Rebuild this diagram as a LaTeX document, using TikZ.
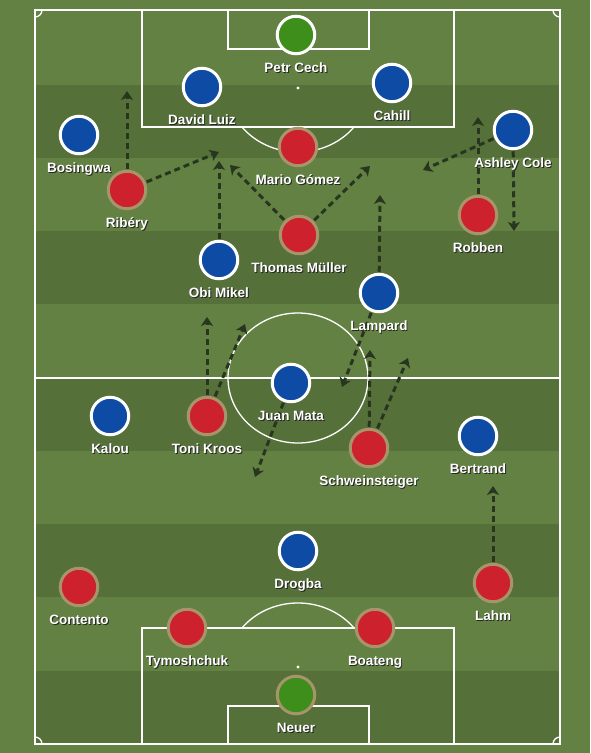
\documentclass[tikz,border=0pt]{standalone}
\usepackage{fontspec}
\setmainfont{Liberation Sans}
\usetikzlibrary{positioning,arrows.meta}

\definecolor{pitchLight}{RGB}{99,129,66}
\definecolor{pitchDark}{RGB}{86,112,58}
\definecolor{chelseaBlue}{RGB}{14,75,165}
\definecolor{bayernRed}{RGB}{205,33,45}
\definecolor{bayernRim}{RGB}{168,148,106}
\definecolor{keeperGreen}{RGB}{62,142,28}
\definecolor{runColor}{RGB}{40,54,32}

\pgfdeclarelayer{pitch}
\pgfdeclarelayer{runs}
\pgfsetlayers{pitch,runs,main}

\newcommand\shadowtext[1]{\makebox[0pt][l]{\kern0.9pt\raisebox{-0.9pt}{\color{black!85}#1}}{\color{white}#1}}

\tikzstyle{PitchLine} = [draw=white, line width=1.3pt]
\tikzstyle{Chelsea} = [circle, fill=chelseaBlue, draw=white, line width=3pt, minimum size=37.5pt, inner sep=0pt]
\tikzstyle{ChelseaKeeper} = [Chelsea, fill=keeperGreen]
\tikzstyle{Bayern} = [circle, fill=bayernRed, draw=bayernRim, line width=3pt, minimum size=37.5pt, inner sep=0pt]
\tikzstyle{BayernKeeper} = [Bayern, fill=keeperGreen]
\tikzstyle{PlayerName} = [inner sep=0pt, text height=10pt, text depth=3pt, font=\bfseries\fontsize{13.5}{15}\selectfont]
\tikzstyle{Run} = [line width=3pt, color=runColor, dash pattern=on 6pt off 4pt, -{Stealth[length=9pt,width=12pt,inset=2.5pt]}, shorten <=1pt]

\begin{document}
\begin{tikzpicture}[x=1pt,y=-1pt]
\useasboundingbox (0,0) rectangle (590,753);

\begin{pgfonlayer}{pitch}
% grass
\fill[pitchLight] (0,0) rectangle (590,753);
\fill[pitchDark] (35,85) rectangle (560,158);
\fill[pitchDark] (35,231) rectangle (560,304);
\fill[pitchDark] (35,378) rectangle (560,451);
\fill[pitchDark] (35,524) rectangle (560,597);
\fill[pitchDark] (35,671) rectangle (560,744);

% markings
\draw[PitchLine] (35,10) rectangle (560,744);
\draw[PitchLine] (35,378) -- (560,378);
\draw[PitchLine] (298,378) ellipse [x radius=70, y radius=65];
\draw[PitchLine] (142,10) rectangle (454,127);
\draw[PitchLine] (228,10) rectangle (369,49);
\draw[PitchLine] (142,628) rectangle (454,744);
\draw[PitchLine] (228,706) rectangle (369,744);
\fill[white] (298,88) circle[radius=1.6pt];
\fill[white] (298,667) circle[radius=1.6pt];
\begin{scope}
\clip (35,127) rectangle (560,378);
\draw[PitchLine] (298,88) ellipse [x radius=70.6, y radius=64];
\end{scope}
\begin{scope}
\clip (35,378) rectangle (560,628);
\draw[PitchLine] (298,667) ellipse [x radius=70.6, y radius=64];
\end{scope}
\begin{scope}
\clip (35,10) rectangle (560,744);
\draw[PitchLine] (35,10) circle[radius=7pt];
\draw[PitchLine] (560,10) circle[radius=7pt];
\draw[PitchLine] (35,744) circle[radius=7pt];
\draw[PitchLine] (560,744) circle[radius=7pt];
\end{scope}
\end{pgfonlayer}

% chelsea
\node[ChelseaKeeper] (cech) at (296,35) {};
\node[Chelsea] (luiz) at (202,87) {};
\node[Chelsea] (cahill) at (392,83) {};
\node[Chelsea] (bosingwa) at (79,135) {};
\node[Chelsea] (cole) at (513,130) {};
\node[Chelsea] (mikel) at (219,260) {};
\node[Chelsea] (lampard) at (379,293) {};
\node[Chelsea] (mata) at (291,383) {};
\node[Chelsea] (kalou) at (110,416) {};
\node[Chelsea] (bertrand) at (478,436) {};
\node[Chelsea] (drogba) at (298,551) {};

% bayern
\node[Bayern] (gomez) at (298,147) {};
\node[Bayern] (ribery) at (127,190) {};
\node[Bayern] (robben) at (478,215) {};
\node[Bayern] (mueller) at (299,235) {};
\node[Bayern] (kroos) at (207,416) {};
\node[Bayern] (schweini) at (369,448) {};
\node[Bayern] (contento) at (79,587) {};
\node[Bayern] (lahm) at (493,583) {};
\node[Bayern] (tymo) at (187,628) {};
\node[Bayern] (boateng) at (375,628) {};
\node[BayernKeeper] (neuer) at (296,695) {};

% names
\node[PlayerName, below=7pt of cech] (cechName) {\shadowtext{Petr Cech}};
\node[PlayerName, below=7pt of luiz] (luizName) {\shadowtext{David Luiz}};
\node[PlayerName, below=7pt of cahill] (cahillName) {\shadowtext{Cahill}};
\node[PlayerName, below=7pt of bosingwa] (bosingwaName) {\shadowtext{Bosingwa}};
\node[PlayerName, below=7pt of cole] (coleName) {\shadowtext{Ashley Cole}};
\node[PlayerName, below=7pt of mikel] (mikelName) {\shadowtext{Obi Mikel}};
\node[PlayerName, below=7pt of lampard] (lampardName) {\shadowtext{Lampard}};
\node[PlayerName, below=7pt of mata] (mataName) {\shadowtext{Juan Mata}};
\node[PlayerName, below=7pt of kalou] (kalouName) {\shadowtext{Kalou}};
\node[PlayerName, below=7pt of bertrand] (bertrandName) {\shadowtext{Bertrand}};
\node[PlayerName, below=7pt of drogba] (drogbaName) {\shadowtext{Drogba}};
\node[PlayerName, below=7pt of gomez] (gomezName) {\shadowtext{Mario Gómez}};
\node[PlayerName, below=7pt of ribery] (riberyName) {\shadowtext{Ribéry}};
\node[PlayerName, below=7pt of robben] (robbenName) {\shadowtext{Robben}};
\node[PlayerName, below=7pt of mueller] (muellerName) {\shadowtext{Thomas Müller}};
\node[PlayerName, below=7pt of kroos] (kroosName) {\shadowtext{Toni Kroos}};
\node[PlayerName, below=7pt of schweini] (schweiniName) {\shadowtext{Schweinsteiger}};
\node[PlayerName, below=7pt of contento] (contentoName) {\shadowtext{Contento}};
\node[PlayerName, below=7pt of lahm] (lahmName) {\shadowtext{Lahm}};
\node[PlayerName, below=7pt of tymo] (tymoName) {\shadowtext{Tymoshchuk}};
\node[PlayerName, below=7pt of boateng] (boatengName) {\shadowtext{Boateng}};
\node[PlayerName, below=7pt of neuer] (neuerName) {\shadowtext{Neuer}};

% runs, under the players and names
\coordinate (riberyUp) at (127,91);
\coordinate (riberyIn) at (219,152);
\coordinate (mikelUp) at (219,161);
\coordinate (muellerLeft) at (230,165);
\coordinate (muellerRight) at (370,166);
\coordinate (lampardUp) at (380,195);
\coordinate (lampardBack) at (342,387);
\coordinate (robbenUp) at (478,117);
\coordinate (coleDown) at (514,231);
\coordinate (coleIn) at (423,170);
\coordinate (kroosUp) at (207,317);
\coordinate (kroosRight) at (245,324);
\coordinate (mataBack) at (255,477);
\coordinate (schweiniUp) at (370,350);
\coordinate (schweiniRight) at (408,358);
\coordinate (lahmUp) at (493,486);

\begin{pgfonlayer}{runs}
\draw[Run] (ribery) -- (riberyUp);
\draw[Run] (ribery) -- (riberyIn);
\draw[Run] (mikel) -- (mikelUp);
\draw[Run] (mueller) -- (muellerLeft);
\draw[Run] (mueller) -- (muellerRight);
\draw[Run] (lampard) -- (lampardUp);
\draw[Run] (lampard) -- (lampardBack);
\draw[Run] (robben) -- (robbenUp);
\draw[Run] (cole) -- (coleDown);
\draw[Run] (cole) -- (coleIn);
\draw[Run] (kroos) -- (kroosUp);
\draw[Run] (kroos) -- (kroosRight);
\draw[Run] (mata) -- (mataBack);
\draw[Run] (schweini) -- (schweiniUp);
\draw[Run] (schweini) -- (schweiniRight);
\draw[Run] (lahm) -- (lahmUp);
\end{pgfonlayer}

\end{tikzpicture}
\end{document}
